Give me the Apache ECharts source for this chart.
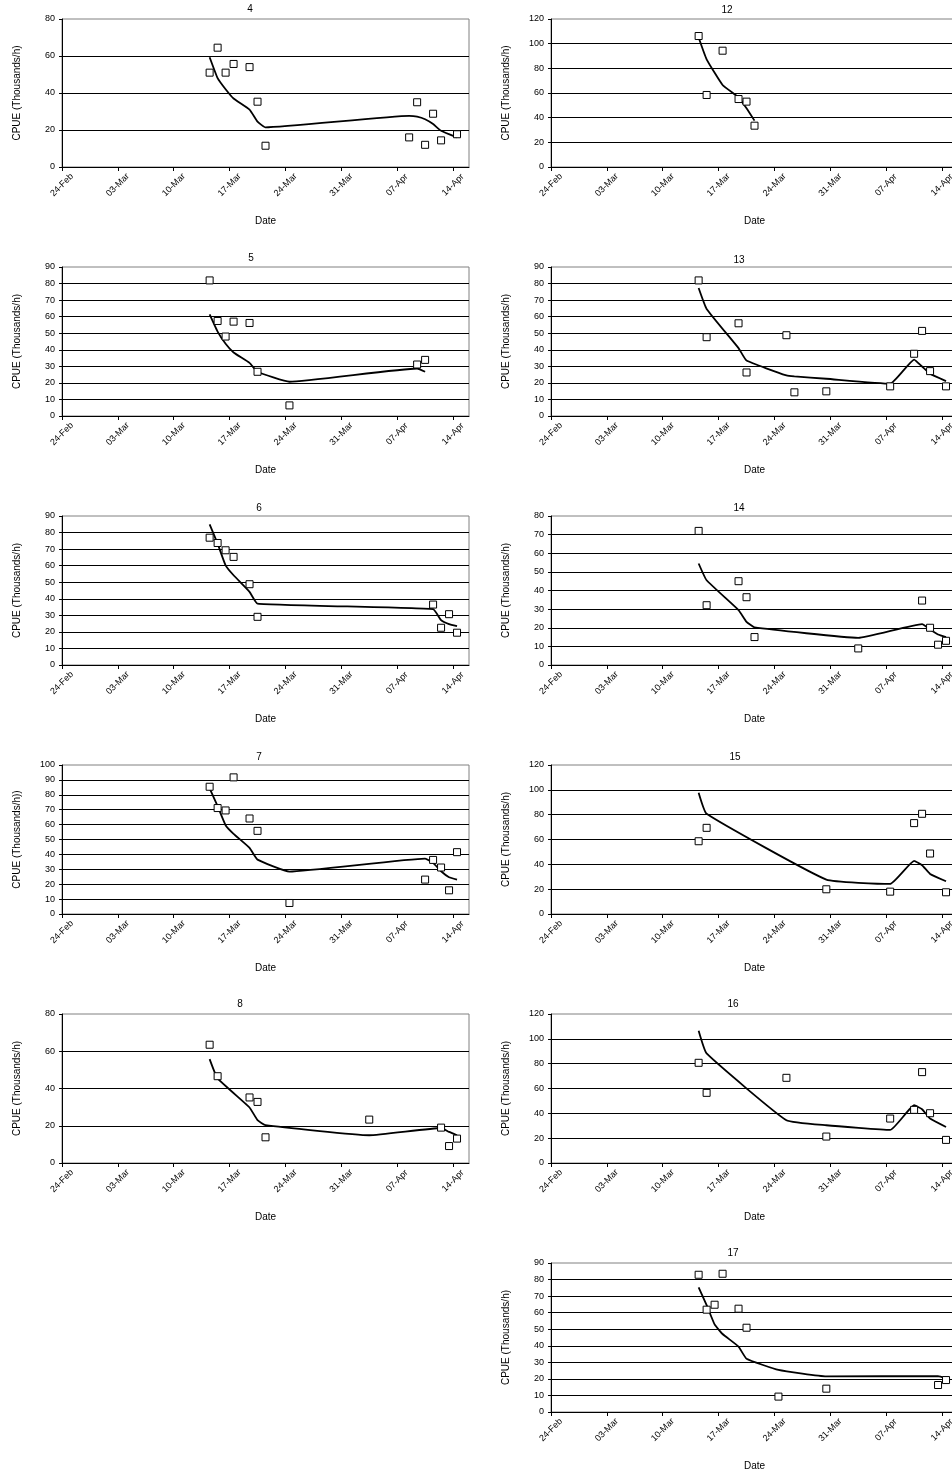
<!DOCTYPE html>
<html><head><meta charset="utf-8">
<script src="https://cdn.jsdelivr.net/npm/echarts@6/dist/echarts.min.js"></script>
<style>html,body{margin:0;padding:0;overflow:hidden;background:#fff}#c{width:952px;height:1475px}</style>
</head><body><div id="c"></div><script>
// x values: days since 24-Feb
const dateLabels = ['24-Feb','03-Mar','10-Mar','17-Mar','24-Mar','31-Mar','07-Apr','14-Apr'];

const days4 = [18.5,19.5,20.5,21.5,23.5,24.5,25.5,43.5,44.5,45.5,46.5,47.5,49.5];
const cpue4 = [51,64.5,51,55.7,54,35.3,11.5,16,35,12,28.8,14.4,17.7];
const fit4  = [59.3,48,42,37,31,24.5,21.4,27.6,27.2,25.8,23.2,19.6,16];

const days5 = [18.5,19.5,20.5,21.5,23.5,24.5,28.5,44.5,45.5];
const cpue5 = [81.9,57.4,48,57,56.2,26.7,6.4,31.1,33.9];
const fit5  = [61.4,51,43.6,38.4,32.1,26.7,20.7,28.7,26.7];

const days6 = [18.5,19.5,20.5,21.5,23.5,24.5,46.5,47.5,48.5,49.5];
const cpue6 = [76.9,73.7,69.3,65.3,48.8,29.1,36.5,22.5,30.7,19.5];
const fit6  = [84.9,73.3,60.2,54.2,44.2,37.1,33.7,27.1,24.7,23.5];

const days7 = [18.5,19.5,20.5,21.5,23.5,24.5,28.5,45.5,46.5,47.5,48.5,49.5];
const cpue7 = [85.4,71.1,69.5,91.7,64.1,55.8,7.4,23.1,36.3,31.2,15.9,41.5];
const fit7  = [84.3,72.4,59.6,53.8,44.4,36.5,28.5,37.2,34.3,28.7,24.7,23.1];

const days8 = [18.5,19.5,23.5,24.5,25.5,38.5,47.5,48.5,49.5];
const cpue8 = [63.5,46.6,35.2,32.8,13.8,23.3,19,9.1,13.1];
const fit8  = [55.8,45.4,29.8,23,20.3,14.9,18.8,16.7,14.9];

const days12 = [18.5,19.5,21.5,23.5,24.5,25.5];
const cpue12 = [106.2,58.4,94.3,55.1,53,33.5];
const fit12  = [105,87.3,66.5,56.5,47.6,37.6];

const days13 = [18.5,19.5,23.5,24.5,29.5,30.5,34.5,42.5,45.5,46.5,47.5,49.5];
const cpue13 = [81.9,47.6,56,26.3,48.8,14.3,14.9,17.9,37.6,51.4,27.1,17.9];
const fit13  = [77.3,64.7,41,33.5,24.5,23.9,22.5,19.5,34.1,29.9,25.5,21.1];

const days14 = [18.5,19.5,23.5,24.5,25.5,38.5,46.5,47.5,48.5,49.5];
const cpue14 = [72,32.1,45,36.4,15,8.9,34.6,20,10.9,13];
const fit14  = [54.5,45.5,29.5,23.2,20.2,14.6,22,19.1,16.4,15];

const days15 = [18.5,19.5,34.5,42.5,45.5,46.5,47.5,49.5];
const cpue15 = [58.6,69.4,19.9,18,73.2,80.7,48.7,17.5];
const fit15  = [97.7,80.7,27.7,24.2,42.8,39.3,32.3,26.4];

const days16 = [18.5,19.5,29.5,34.5,42.5,45.5,46.5,47.5,49.5];
const cpue16 = [80.7,56.5,68.6,21.3,35.8,42.8,73.2,40.1,18.6];
const fit16  = [106.5,88.2,34.4,30.4,26.6,46.5,43.3,35.8,29];

const days17 = [18.5,19.5,20.5,21.5,23.5,24.5,28.5,34.5,48.5,49.5];
const cpue17 = [82.9,61.8,64.8,83.5,62.4,50.9,9.3,14.1,16.3,19.3];
const fit17  = [75.3,64.6,52.9,47.1,39.5,32.2,25.4,21.5,21.7,20.3];

const yName = 'CPUE (Thousands/h)';

// layout configuration
const panels = [
  {t:'4',  d:days4,  o:cpue4,  f:fit4,  ymax:80,  yi:20, left:62,  top:19,   h:148, tx:250, ty:4},
  {t:'5',  d:days5,  o:cpue5,  f:fit5,  ymax:90,  yi:10, left:62,  top:267,  h:149, tx:251, ty:253},
  {t:'6',  d:days6,  o:cpue6,  f:fit6,  ymax:90,  yi:10, left:62,  top:516,  h:149, tx:259, ty:503},
  {t:'7',  d:days7,  o:cpue7,  f:fit7,  ymax:100, yi:10, left:62,  top:765,  h:149, tx:259, ty:752, yn:'CPUE (Thousands/h))'},
  {t:'8',  d:days8,  o:cpue8,  f:fit8,  ymax:80,  yi:20, left:62,  top:1014, h:149, tx:240, ty:999},
  {t:'12', d:days12, o:cpue12, f:fit12, ymax:120, yi:20, left:551, top:19,   h:148, tx:727, ty:5},
  {t:'13', d:days13, o:cpue13, f:fit13, ymax:90,  yi:10, left:551, top:267,  h:149, tx:739, ty:255},
  {t:'14', d:days14, o:cpue14, f:fit14, ymax:80,  yi:10, left:551, top:516,  h:149, tx:739, ty:503},
  {t:'15', d:days15, o:cpue15, f:fit15, ymax:120, yi:20, left:551, top:765,  h:149, tx:735, ty:752},
  {t:'16', d:days16, o:cpue16, f:fit16, ymax:120, yi:20, left:551, top:1014, h:149, tx:733, ty:999},
  {t:'17', d:days17, o:cpue17, f:fit17, ymax:90,  yi:10, left:551, top:1263, h:149, tx:733, ty:1248}
];

const FF = '"Liberation Sans", Arial, sans-serif';
const tickVals = dateLabels.map((_, i) => i * 7);

const option = {
  animation: false,
  backgroundColor: '#fff',
  title: [], grid: [], xAxis: [], yAxis: [], series: []
};

panels.forEach((p, i) => {
  option.title.push({
    text: p.t, left: p.tx, top: p.ty, textAlign: 'center', padding: 0,
    textStyle: {fontSize: 10, fontWeight: 'normal', color: '#000', fontFamily: FF}
  });
  option.grid.push({
    left: p.left, top: p.top, width: 407, height: p.h,
    show: true, borderColor: '#808080', borderWidth: 1, backgroundColor: 'transparent',
    containLabel: false, outerBoundsMode: 'none'
  });
  option.xAxis.push({
    type: 'value', gridIndex: i, min: 0, max: 51, interval: 7,
    name: 'Date', nameLocation: 'middle', nameGap: 49, nameMoveOverlap: false,
    nameTextStyle: {fontSize: 10, color: '#000', fontFamily: FF},
    axisLine: {show: true, onZero: false, lineStyle: {color: '#000', width: 1}},
    axisTick: {show: true, length: 4, customValues: tickVals, lineStyle: {color: '#000', width: 1}},
    axisLabel: {
      customValues: tickVals,
      formatter: v => dateLabels[Math.round(v / 7)] || '',
      rotate: 45, align: 'center', verticalAlign: 'middle', margin: 18,
      fontSize: 9, color: '#000', fontFamily: FF
    },
    splitLine: {show: false}
  });
  option.yAxis.push({
    type: 'value', gridIndex: i, min: 0, max: p.ymax, interval: p.yi,
    name: p.yn || yName, nameLocation: 'middle', nameGap: 40, nameRotate: 90, nameMoveOverlap: false,
    nameTextStyle: {fontSize: 10, color: '#000', fontFamily: FF},
    axisLine: {show: true, lineStyle: {color: '#000', width: 1}},
    axisTick: {show: true, length: 3, lineStyle: {color: '#000', width: 1}},
    axisLabel: {fontSize: 9, color: '#000', margin: 7, fontFamily: FF},
    splitLine: {show: true, showMinLine: false, showMaxLine: false, lineStyle: {color: '#000', width: 1}}
  });
  option.series.push({
    type: 'line', xAxisIndex: i, yAxisIndex: i,
    data: p.d.map((x, k) => [x, p.f[k]]),
    symbol: 'none', smooth: 0.12,
    lineStyle: {color: '#000', width: 1.8}, z: 2, silent: true
  });
  option.series.push({
    type: 'scatter', xAxisIndex: i, yAxisIndex: i,
    data: p.d.map((x, k) => [x, p.o[k]]),
    symbol: 'rect', symbolSize: 7,
    itemStyle: {color: '#fff', borderColor: '#000', borderWidth: 1, opacity: 1}, z: 3
  });
});

const chart = echarts.init(document.getElementById('c'), null, {renderer: 'canvas'});
chart.setOption(option);
</script></body></html>
